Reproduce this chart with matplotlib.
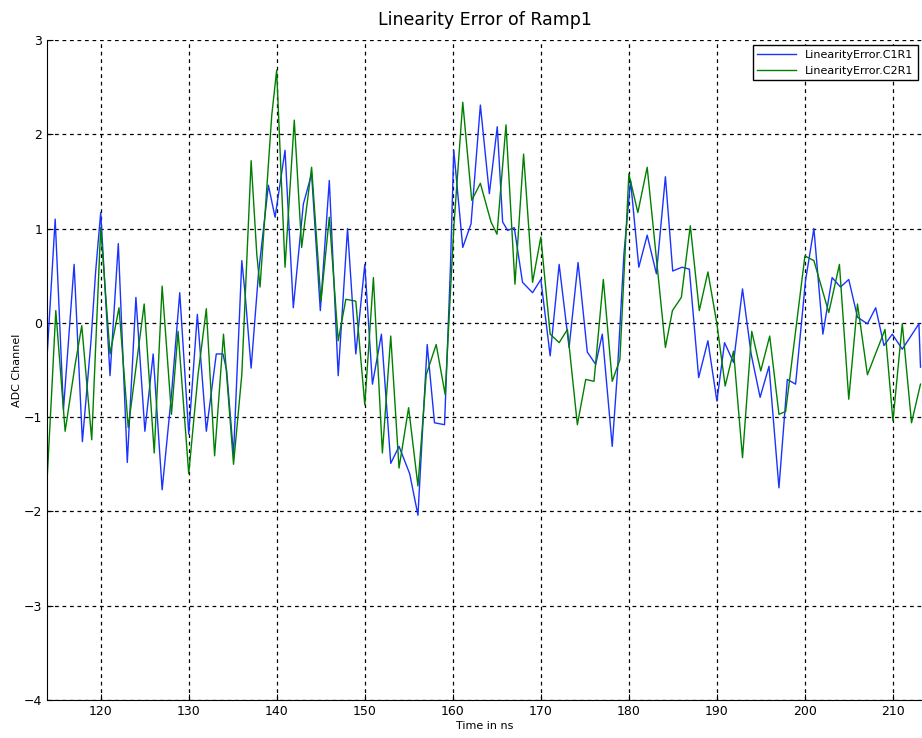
import numpy as np
import matplotlib
matplotlib.use("Agg")
import matplotlib.pyplot as plt

# datos (vertices de cada curva)
t_c1 = [113.9, 114.83, 115.77, 116.98, 117.92, 118.9, 119.43, 120.0, 121.06, 122.0,
        123.02, 124.0, 125.02, 125.96, 126.98, 128.04, 128.98, 130.0, 130.98, 132.0,
        133.13, 133.89, 134.3, 135.09, 136.03, 136.41, 137.09, 137.92, 139.05, 139.81,
        140.94, 141.88, 143.02, 143.96, 144.95, 145.97, 146.98, 148.04, 148.98, 150.0,
        150.87, 151.89, 152.95, 153.89, 155.1, 156.04, 157.09, 157.92, 159.06, 159.73,
        160.11, 161.13, 162.07, 163.13, 164.15, 165.05, 165.66, 166.23, 166.98, 167.92,
        169.06, 170.0, 171.06, 172.08, 173.21, 174.23, 175.28, 176.23, 176.98, 178.11,
        178.68, 179.44, 180.19, 181.13, 182.08, 183.13, 184.15, 184.98, 186.04, 186.87,
        187.93, 188.98, 190.0, 190.87, 191.89, 192.91, 193.89, 194.91, 195.92, 197.05,
        198.0, 198.94, 200.07, 201.02, 202.04, 203.09, 204.04, 204.98, 205.97, 207.1,
        208.04, 208.98, 209.93, 211.06, 212.95, 213.13]
v_c1 = [-0.37, 1.10, -0.92, 0.62, -1.26, -0.19, 0.55, 1.17, -0.56, 0.84,
        -1.48, 0.27, -1.15, -0.33, -1.77, -0.76, 0.32, -1.18, 0.09, -1.15,
        -0.33, -0.33, -0.5, -1.40, 0.66, 0.30, -0.48, 0.52, 1.46, 1.12,
        1.83, 0.16, 1.26, 1.58, 0.13, 1.51, -0.56, 1.00, -0.33, 0.62,
        -0.65, -0.12, -1.49, -1.31, -1.60, -2.04, -0.23, -1.06, -1.08, 0.59,
        1.83, 0.80, 1.05, 2.31, 1.37, 2.08, 1.07, 0.98, 1.01, 0.43,
        0.32, 0.46, -0.35, 0.62, -0.26, 0.64, -0.31, -0.44, -0.12, -1.31,
        -0.55, 0.73, 1.51, 0.59, 0.93, 0.52, 1.55, 0.55, 0.59, 0.57,
        -0.58, -0.19, -0.83, -0.21, -0.42, 0.36, -0.33, -0.79, -0.46, -1.75,
        -0.60, -0.65, 0.45, 1.00, -0.12, 0.48, 0.38, 0.46, 0.06, -0.01,
        0.16, -0.24, -0.12, -0.28, -0.01, -0.47]

t_c2 = [113.9, 114.38, 114.9, 115.96, 117.1, 117.85, 118.98, 120.0, 121.06, 122.08,
        123.13, 124.94, 126.08, 126.98, 128.04, 128.79, 130.0, 131.06, 132.0, 132.94,
        133.95, 135.09, 136.03, 137.09, 137.73, 138.1, 139.43, 139.99, 140.94, 141.99,
        142.83, 143.96, 145.02, 145.97, 146.98, 147.85, 148.98, 150.0, 150.98, 152.0,
        152.95, 153.89, 154.98, 156.04, 156.98, 158.11, 159.13, 160.11, 161.13, 162.15,
        163.13, 164.34, 165.02, 166.04, 167.06, 168.04, 169.06, 170.0, 171.06, 172.08,
        173.02, 174.15, 175.1, 176.04, 177.1, 178.11, 178.98, 180.0, 181.02, 182.08,
        184.15, 184.95, 185.96, 186.98, 188.0, 188.98, 190.0, 190.94, 191.89, 192.91,
        193.96, 194.98, 196.0, 197.05, 197.81, 200.0, 201.02, 202.71, 203.92, 204.98,
        205.97, 207.1, 209.1, 210.0, 211.06, 212.11, 213.13]
v_c2 = [-1.68, -0.83, 0.13, -1.15, -0.44, -0.03, -1.24, 1.01, -0.33, 0.16,
        -1.11, 0.20, -1.38, 0.39, -0.97, -0.09, -1.60, -0.55, 0.15, -1.41,
        -0.12, -1.50, -0.55, 1.72, 0.73, 0.38, 2.20, 2.68, 0.59, 2.15,
        0.80, 1.65, 0.23, 1.12, -0.19, 0.25, 0.23, -0.87, 0.48, -1.38,
        -0.14, -1.54, -0.90, -1.73, -0.55, -0.23, -0.76, 1.01, 2.34, 1.30,
        1.48, 1.07, 0.94, 2.10, 0.41, 1.79, 0.43, 0.91, -0.12, -0.21,
        -0.07, -1.08, -0.60, -0.62, 0.46, -0.62, -0.39, 1.58, 1.17, 1.65,
        -0.26, 0.13, 0.27, 1.03, 0.13, 0.54, -0.01, -0.67, -0.30, -1.43,
        -0.09, -0.51, -0.14, -0.97, -0.94, 0.71, 0.66, 0.11, 0.62, -0.81,
        0.20, -0.55, -0.07, -1.04, -0.01, -1.06, -0.65]

etiquetas = ["LinearityError.C1R1", "LinearityError.C2R1"]
xticks = [120, 130, 140, 150, 160, 170, 180, 190, 200, 210]
yticks = [-4, -3, -2, -1, 0, 1, 2, 3]

fig = plt.figure(figsize=(9.22, 7.38), dpi=100)
ax = fig.add_axes([47/922, 38/738, 875/922, 660/738])

ax.plot(t_c1, v_c1, color=(0.1, 0.2, 1), lw=1.0, label=etiquetas[0])
ax.plot(t_c2, v_c2, color=(0, 0.5, 0), lw=1.0, label=etiquetas[1])

ax.set_xlim(113.9, 213.3)
ax.set_ylim(-4, 3)
ax.set_xticks(xticks)
ax.set_yticks(yticks)
ax.tick_params(direction="in", labelsize=9, length=4)
ax.grid(True, color="k", linestyle=(0, (3, 3)), lw=0.9)
ax.spines["top"].set_visible(False)
ax.spines["right"].set_visible(False)

ax.set_title("Linearity Error of Ramp1", fontsize=12.5, pad=11)
ax.set_xlabel("Time in ns", fontsize=8, labelpad=2)
ax.set_ylabel("ADC Channel", fontsize=8, labelpad=1)

leg = ax.legend(loc="upper right", bbox_to_anchor=(0.9954, 0.992), fontsize=8,
                fancybox=False, framealpha=1, edgecolor="k", handlelength=3.5,
                borderpad=0.4, labelspacing=0.55, borderaxespad=0)
leg.get_frame().set_linewidth(1.0)

plt.savefig("out.png", dpi=100)
